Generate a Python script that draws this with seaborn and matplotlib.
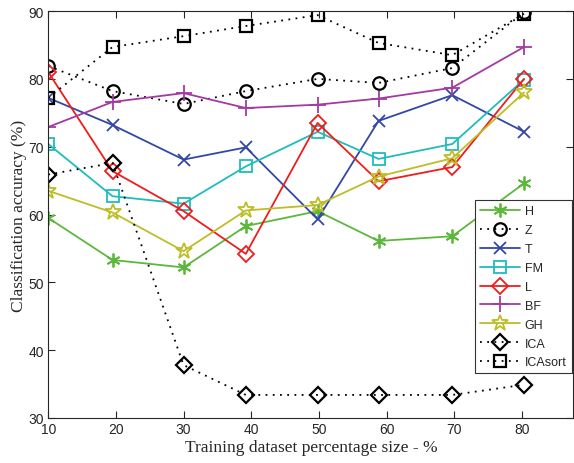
import matplotlib
matplotlib.use('Agg')
import matplotlib.pyplot as plt
import seaborn as sns

# Training sizes (x positions as they sit on the chart)
train_size = [10, 19.5, 30, 39.2, 49.8, 58.8, 69.7, 80.3]

# Accuracy per method
acc_H = [59.5, 53.3, 52.2, 58.3, 60.5, 56.1, 56.8, 64.6]
acc_Z = [81.9, 78.2, 76.3, 78.2, 80.0, 79.4, 81.6, 89.8]
acc_T = [77.2, 73.2, 68.1, 69.9, 59.3, 73.8, 77.6, 72.2]
acc_FM = [70.4, 62.7, 61.6, 67.1, 72.2, 68.2, 70.4, 79.9]
acc_L = [81.0, 66.4, 60.5, 54.2, 73.5, 64.9, 67.0, 80.0]
acc_BF = [72.9, 76.6, 77.9, 75.7, 76.2, 77.1, 78.7, 84.7]
acc_GH = [63.5, 60.3, 54.6, 60.6, 61.4, 65.6, 68.3, 78.0]
acc_ICA = [65.9, 67.6, 37.8, 33.4, 33.4, 33.4, 33.4, 34.9]
acc_ICAsort = [77.2, 84.7, 86.3, 87.8, 89.4, 85.3, 83.5, 89.6]

series_names = ['H', 'Z', 'T', 'FM', 'L', 'BF', 'GH', 'ICA', 'ICAsort']
series_vals = [acc_H, acc_Z, acc_T, acc_FM, acc_L, acc_BF, acc_GH, acc_ICA, acc_ICAsort]

dotted = (0, (1, 3))
styles = {
    'H': dict(color='#5cb83c', marker=(6, 2, 0), linestyle='-', ms=10, mew=1.3),
    'Z': dict(color='black', marker='o', linestyle=dotted, ms=9, mew=1.6),
    'T': dict(color='#3347a6', marker='x', linestyle='-', ms=9, mew=1.3),
    'FM': dict(color='#1fbcbc', marker='s', linestyle='-', ms=9, mew=1.3),
    'L': dict(color='#f01c1c', marker='D', linestyle='-', ms=8, mew=1.3),
    'BF': dict(color='#a23aa2', marker='+', linestyle='-', ms=11, mew=1.3),
    'GH': dict(color='#bdbd26', marker='*', linestyle='-', ms=12, mew=1.3),
    'ICA': dict(color='black', marker='D', linestyle=dotted, ms=8, mew=1.6),
    'ICAsort': dict(color='black', marker='s', linestyle=dotted, ms=9, mew=1.6),
}

sns.set_style('ticks')
fig = plt.figure(figsize=(5.74, 4.64), dpi=100)
ax = fig.add_axes([0.084, 0.097, 0.915, 0.877])

for name, vals in zip(series_names, series_vals):
    st = styles[name]
    sns.lineplot(x=train_size, y=vals, ax=ax, label=name,
                 color=st['color'], marker=st['marker'], linestyle=st['linestyle'],
                 markersize=st['ms'], markerfacecolor='none',
                 markeredgecolor=st['color'], markeredgewidth=st['mew'], linewidth=1.3)

ax.set_xlim(10, 87.6)
ax.set_ylim(30, 90)
ax.set_xticks([10, 20, 30, 40, 50, 60, 70, 80])
ax.set_yticks([30, 40, 50, 60, 70, 80, 90])
ax.tick_params(direction='in', top=True, right=True, labelsize=10, length=5,
               pad=3, width=0.8)
for lab in ax.get_xticklabels() + ax.get_yticklabels():
    lab.set_family('Liberation Sans')
for sp in ax.spines.values():
    sp.set_linewidth(0.8)
    sp.set_visible(True)

ax.set_xlabel('Training dataset percentage size - %', family='Liberation Serif', fontsize=12.5, labelpad=2)
ax.set_ylabel('Classification accuracy (%)', family='Liberation Serif', fontsize=12.5, labelpad=1)

leg = ax.legend(loc='upper left', bbox_to_anchor=(0.8, 0.55), fancybox=False,
                framealpha=1, edgecolor='#333333', handlelength=3.2,
                labelspacing=0.55, borderpad=0.4, handletextpad=0.4,
                prop={'family': 'Liberation Sans', 'size': 9})
leg.get_frame().set_linewidth(0.8)

fig.savefig('out.png', dpi=100)
